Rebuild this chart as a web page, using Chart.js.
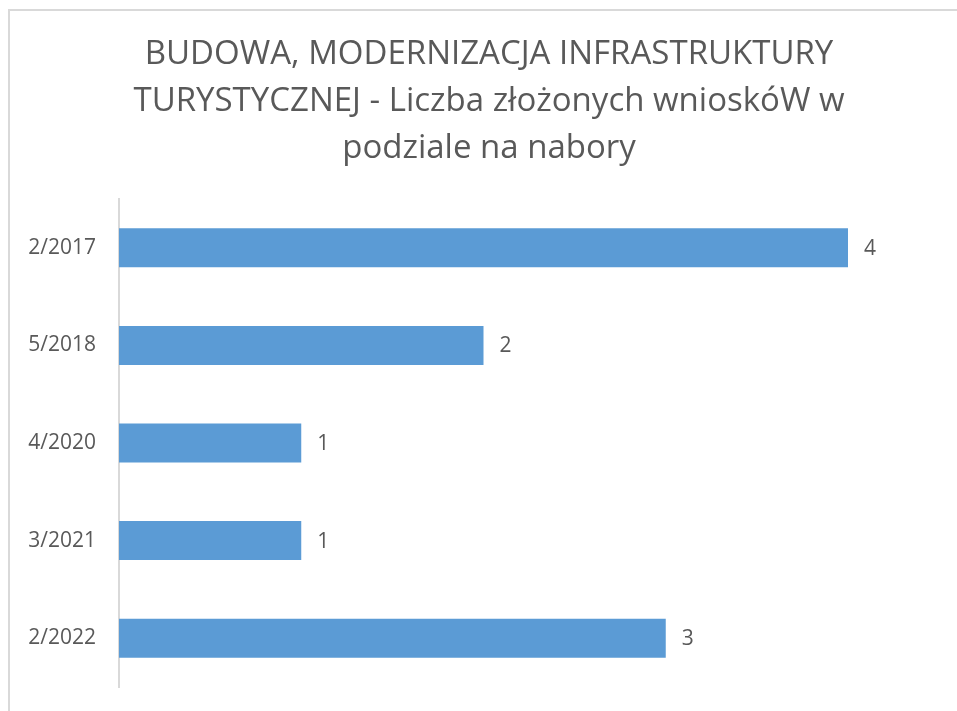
<!DOCTYPE html>
<html>
<head>
<meta charset="utf-8">
<script src="https://cdn.jsdelivr.net/npm/chart.js@4.4.1/dist/chart.umd.min.js"></script>
<style>
  html, body { margin: 0; padding: 0; background: #ffffff; }
  #wrap { width: 957px; height: 711px; position: relative; }
</style>
</head>
<body>
<div id="wrap"><canvas id="c" width="957" height="711"></canvas></div>
<script>
const categories = ['2/2017', '5/2018', '4/2020', '3/2021', '2/2022'];
const values = [4, 2, 1, 1, 3];
const titleLines = ['BUDOWA, MODERNIZACJA INFRASTRUKTURY', 'TURYSTYCZNEJ - Liczba złożonych wnioskóW w', 'podziale na nabory'];

const textColor = '#595959';
const fontFamily = '"Open Sans", "Liberation Sans", sans-serif';

const frameAndTitle = {
  id: 'frameAndTitle',
  beforeDraw(chart) {
    const ctx = chart.ctx;
    ctx.save();
    ctx.fillStyle = '#ffffff';
    ctx.fillRect(0, 0, chart.width, chart.height);
    ctx.strokeStyle = '#d9d9d9';
    ctx.lineWidth = 2;
    ctx.strokeRect(9, 10, 1200, 1200);
    ctx.fillStyle = textColor;
    ctx.font = '33px ' + fontFamily;
    ctx.textAlign = 'center';
    ctx.textBaseline = 'alphabetic';
    const baselines = [64, 111, 158];
    titleLines.forEach((t, i) => ctx.fillText(t, 489, baselines[i]));
    ctx.restore();
  }
};

const valueLabels = {
  id: 'valueLabels',
  afterDatasetsDraw(chart) {
    const ctx = chart.ctx;
    const meta = chart.getDatasetMeta(0);
    ctx.save();
    ctx.fillStyle = textColor;
    ctx.font = '21px ' + fontFamily;
    ctx.textAlign = 'left';
    ctx.textBaseline = 'middle';
    meta.data.forEach((bar, i) => {
      ctx.fillText(String(values[i]), bar.x + 16, bar.y + 1);
    });
    ctx.restore();
  }
};

new Chart(document.getElementById('c'), {
  type: 'bar',
  data: {
    labels: categories,
    datasets: [{
      data: values,
      backgroundColor: '#5b9bd5',
      borderWidth: 0,
      barPercentage: 0.4,
      categoryPercentage: 1.0
    }]
  },
  options: {
    indexAxis: 'y',
    responsive: false,
    animation: false,
    devicePixelRatio: 1,
    layout: { padding: { top: 199, bottom: 24, left: 0, right: 109 } },
    plugins: {
      legend: { display: false },
      title: { display: false },
      tooltip: { enabled: false }
    },
    scales: {
      x: {
        display: false,
        min: 0,
        max: 4
      },
      y: {
        grid: { display: false },
        border: { display: true, color: '#d9d9d9', width: 2 },
        ticks: {
          color: textColor,
          font: { family: fontFamily, size: 21 },
          padding: 15
        },
        afterFit(scale) {
          scale.width = 119;
          scale.paddingTop = 0;
          scale.paddingBottom = 0;
        }
      }
    }
  },
  plugins: [frameAndTitle, valueLabels]
});
</script>
</body>
</html>
